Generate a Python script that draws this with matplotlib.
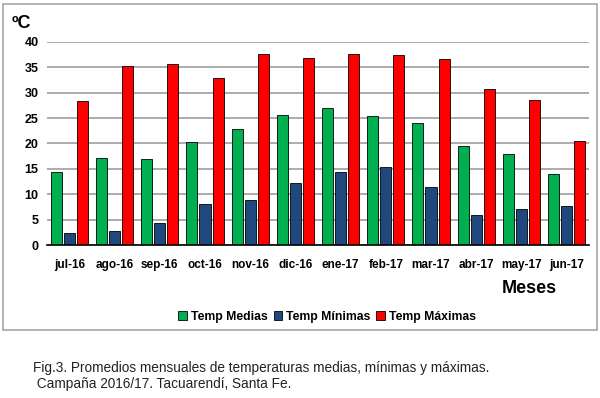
import numpy as np
import matplotlib
matplotlib.use("Agg")
import matplotlib.pyplot as plt
from matplotlib.patches import Rectangle

meses = ["jul-16", "ago-16", "sep-16", "oct-16", "nov-16", "dic-16",
         "ene-17", "feb-17", "mar-17", "abr-17", "may-17", "jun-17"]
temp_medias = [14.4, 17.2, 16.9, 20.3, 22.8, 25.7, 26.9, 25.5, 24.0, 19.6, 18.0, 14.0]
temp_minimas = [2.4, 2.7, 4.4, 8.1, 8.9, 12.3, 14.3, 15.4, 11.5, 6.0, 7.1, 7.6]
temp_maximas = [28.3, 35.2, 35.7, 32.9, 37.6, 36.9, 37.6, 37.4, 36.6, 30.8, 28.6, 20.4]
yticks = [0, 5, 10, 15, 20, 25, 30, 35, 40]

plt.rcParams['font.family'] = ['Liberation Sans', 'DejaVu Sans']

fig = plt.figure(figsize=(6, 3.98), dpi=100)
ax = fig.add_axes([0.078, 0.3844, 0.904, 0.5101])

x = np.arange(len(meses))
w = 0.245
step = 0.29
ax.bar(x - step, temp_medias, w, color="#00B050", edgecolor="black", linewidth=0.6,
       label="Temp Medias", zorder=3)
ax.bar(x, temp_minimas, w, color="#1F497D", edgecolor="black", linewidth=0.6,
       label="Temp Mínimas", zorder=3)
ax.bar(x + step, temp_maximas, w, color="#FF0000", edgecolor="black", linewidth=0.6,
       label="Temp Máximas", zorder=3)

ax.set_xlim(-0.5, len(meses) - 0.5)
ax.set_ylim(0, 40)
ax.set_yticks(yticks)
ax.set_xticks(x)
ax.set_xticklabels(meses, fontsize=8.5, fontweight="bold")
for lab in ax.get_yticklabels():
    lab.set_fontsize(9)
    lab.set_fontweight("bold")
ax.yaxis.grid(True, color="#A6A6A6", linewidth=1.3, zorder=0)
ax.tick_params(axis="y", length=0, pad=6)
ax.tick_params(axis="x", length=0, pad=10)
for s in ["left", "right", "top"]:
    ax.spines[s].set_visible(False)
ax.spines["bottom"].set_color("black")
ax.spines["bottom"].set_linewidth(1.2)
ax.spines["bottom"].set_zorder(4)

fig.text(0.02, 0.942, "ºC", fontsize=13, fontweight="bold", ha="left", va="center")
fig.text(0.883, 0.274, "Meses", fontsize=13, fontweight="bold", ha="center", va="center")

ax.legend(loc="center", bbox_to_anchor=(0.545, 0.2035), bbox_transform=fig.transFigure,
          ncol=3, frameon=False, prop={"weight": "bold", "size": 8.8},
          handlelength=0.7, handleheight=0.7, handletextpad=0.3, columnspacing=0.5)

fig.patches.append(Rectangle((0.005, 0.171), 0.99, 0.819, transform=fig.transFigure,
                             fill=False, edgecolor="#A6A6A6", linewidth=1.2))

fig.text(0.055, 0.055, "Fig.3. Promedios mensuales de temperaturas medias, mínimas y máximas.\n"
         " Campaña 2016/17. Tacuarendí, Santa Fe.", fontsize=9.8, color="#222222",
         ha="left", va="center", linespacing=1.15)

fig.savefig("out.png", dpi=100)
